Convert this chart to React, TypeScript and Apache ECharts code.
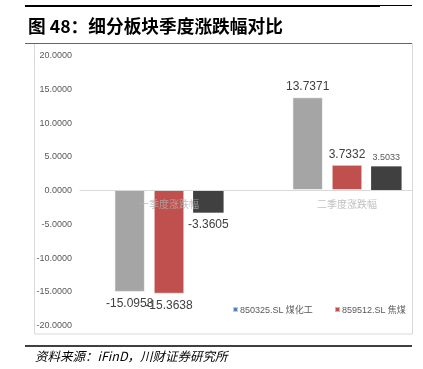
import React, { useEffect, useRef } from 'react';
import * as echarts from 'echarts';

const categories = ['一季度涨跌幅', '二季度涨跌幅'];
const seriesNames = ['850325.SL 煤化工', '859512.SL 焦煤', '系列3'];
const coalChemValues = [-15.0958, 13.7371];
const cokingCoalValues = [-15.3638, 3.7332];
const thirdValues = [-3.3605, 3.5033];
const yMin = -20;
const yMax = 20;
const yInterval = 5;
const titleText = '图 48：细分板块季度涨跌幅对比';
const sourceText = '资料来源：iFinD，川财证券研究所';

const FONT = "'Liberation Sans', 'Noto Sans CJK SC', sans-serif";

export default function App() {
  const ref = useRef<HTMLDivElement>(null);
  useEffect(() => {
    if (!ref.current) return;
    const chart = echarts.init(ref.current, null, { renderer: 'svg' });
    const labelBase = {
      show: true,
      position: 'outside',
      distance: 5,
      fontSize: 12,
      color: '#404040',
      fontFamily: FONT,
      formatter: (p: any) => Number(p.value).toFixed(4),
    };
    const barCommon = {
      type: 'bar',
      barWidth: 30.5,
      barGap: '29%',
      label: labelBase,
    };
    const legendCommon = {
      top: 305,
      padding: 0,
      icon: 'rect',
      itemWidth: 5,
      itemHeight: 5,
      textStyle: { fontSize: 9, color: '#595959', padding: [0, 0, 0, -3] },
    };
    chart.setOption({
      animation: false,
      textStyle: { fontFamily: FONT },
      grid: { left: 80, top: 55, width: 356, height: 270, outerBoundsMode: 'none', containLabel: false },
      legend: [
        {
          ...legendCommon,
          left: 232,
          data: [{ name: seriesNames[0], itemStyle: { color: '#4F81BD' } }],
        },
        {
          ...legendCommon,
          left: 334,
          data: [{ name: seriesNames[1] }],
        },
      ],
      xAxis: {
        type: 'category',
        data: categories,
        z: 3,
        axisLine: { onZero: true, lineStyle: { color: '#d9d9d9', width: 1 } },
        axisTick: { show: false },
        axisLabel: { show: false },
      },
      yAxis: {
        type: 'value',
        min: yMin,
        max: yMax,
        interval: yInterval,
        axisLine: { show: false },
        axisTick: { show: false },
        splitLine: { show: false },
        axisLabel: {
          formatter: (v: number) => v.toFixed(4),
          color: '#595959',
          fontSize: 9,
          margin: 8,
        },
      },
      series: [
        {
          ...barCommon,
          name: seriesNames[0],
          itemStyle: { color: '#A5A5A5', borderColor: 'rgba(255,255,255,0.6)', borderWidth: 1 },
          data: coalChemValues,
        },
        {
          ...barCommon,
          name: seriesNames[1],
          itemStyle: { color: '#C0504D', borderColor: 'rgba(255,255,255,0.5)', borderWidth: 1 },
          data: cokingCoalValues,
        },
        {
          ...barCommon,
          name: seriesNames[2],
          itemStyle: { color: '#404040' },
          data: thirdValues.map((v, i) =>
            v > 0 ? { value: v, label: { fontSize: 9, color: '#595959' } } : v
          ),
        },
        {
          type: 'scatter',
          name: 'categoryLabels',
          z: 10,
          symbolSize: 0,
          silent: true,
          data: categories.map((c) => [c, 0]),
          label: {
            show: true,
            position: 'bottom',
            distance: 8,
            fontSize: 10,
            color: '#b0b0b0',
            fontFamily: "'Noto Sans CJK SC', sans-serif",
            formatter: (p: any) => p.value[0],
          },
        },
      ],
      graphic: [
        { type: 'line', shape: { x1: 25, y1: 6, x2: 380, y2: 6 }, style: { stroke: '#000', lineWidth: 2 } },
        { type: 'line', shape: { x1: 380, y1: 5.5, x2: 412, y2: 5.5 }, style: { stroke: '#000', lineWidth: 1 } },
        {
          type: 'text',
          x: 28,
          y: 25,
          style: {
            text: titleText,
            fontSize: 17.7,
            fontWeight: 'bold',
            fill: '#000',
            verticalAlign: 'middle',
            fontFamily: "'Noto Sans CJK SC', sans-serif",
          },
        },
        {
          type: 'rect',
          z: 100,
          shape: { x: 413, y: 150, width: 12, height: 80 },
          style: { fill: '#fff' },
        },
        {
          type: 'rect',
          z: 101,
          shape: { x: 34.5, y: 43.5, width: 378, height: 290.5 },
          style: { fill: 'none', stroke: '#d9d9d9', lineWidth: 1 },
        },
        { type: 'line', z: 102, shape: { x1: 25, y1: 43.5, x2: 412, y2: 43.5 }, style: { stroke: '#e0302a', lineWidth: 1.2 } },
        { type: 'line', shape: { x1: 25, y1: 346, x2: 412, y2: 346 }, style: { stroke: '#000', lineWidth: 1.5 } },
        {
          type: 'text',
          x: 35,
          y: 355,
          style: {
            text: sourceText,
            fontSize: 12.5,
            fontStyle: 'italic',
            fill: '#000',
            verticalAlign: 'middle',
            fontFamily: "'Noto Sans CJK SC', sans-serif",
          },
        },
      ],
    });
    return () => chart.dispose();
  }, []);
  return <div ref={ref} style={{ position: 'fixed', left: 0, top: 0, width: 423, height: 369 }} />;
}
